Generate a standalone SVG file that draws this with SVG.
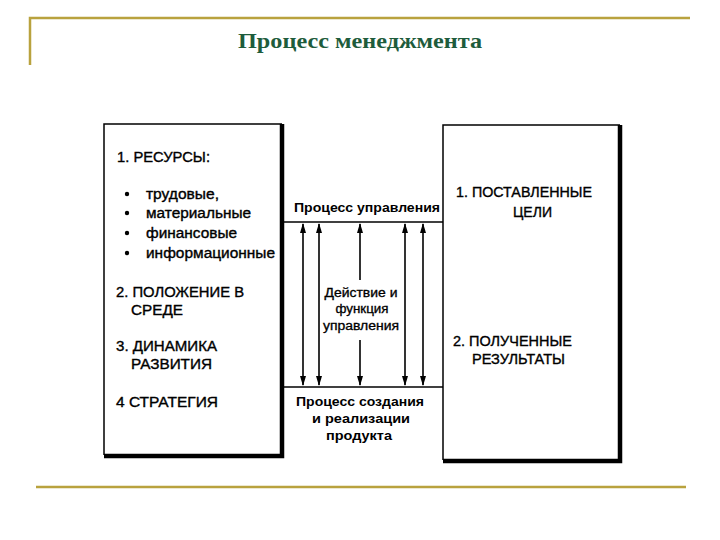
<svg xmlns="http://www.w3.org/2000/svg" width="720" height="540" viewBox="0 0 720 540">
<defs>
<style>
.frame{stroke:#b9a23e;stroke-width:2.5;fill:none}
.title{font-family:"Liberation Serif",serif;font-weight:bold;font-size:22px;fill:#1e5c3c}
.t{font-family:"Liberation Sans",Arial,sans-serif;font-size:14px;fill:#000;stroke:#000;stroke-width:0.35}
.m{font-family:"Liberation Sans",Arial,sans-serif;font-size:12px;font-weight:bold;fill:#000}
.n{font-weight:normal;stroke:#000;stroke-width:0.3}
.thin{stroke:#000;stroke-width:1.5;fill:none}
.thick{stroke:#000;stroke-width:4.5;fill:none}
.ln{stroke:#000;stroke-width:1.5;fill:none}
.arr{stroke:#000;stroke-width:1.6;fill:none;marker-start:url(#ah);marker-end:url(#ah)}
.arrS{stroke:#000;stroke-width:1.6;fill:none;marker-start:url(#ah)}
.arrE{stroke:#000;stroke-width:1.6;fill:none;marker-end:url(#ah)}
</style>
<marker id="ah" markerUnits="userSpaceOnUse" markerWidth="10" markerHeight="7" refX="9" refY="3" orient="auto-start-reverse" viewBox="0 0 10 6">
<path d="M0,0 L10,3 L0,6 Z" fill="#000"/>
</marker>
</defs>
<g id="frame">
<polyline class="frame" points="30,65 30,18 690,18"/>
<line class="frame" x1="36" y1="487" x2="686" y2="487"/>
</g>
<g id="title">
<text class="title" x="360" y="48" text-anchor="middle" textLength="244" lengthAdjust="spacingAndGlyphs">Процесс менеджмента</text>
</g>
<g id="resources">
<polyline class="thin" points="282,124 104,124 104,455"/>
<polyline class="thick" points="282,124 282,456 104,456"/>
<text class="t" x="117" y="162" textLength="93" lengthAdjust="spacingAndGlyphs">1. РЕСУРСЫ:</text>
<circle cx="127" cy="194" r="2.2"/>
<circle cx="127" cy="213" r="2.2"/>
<circle cx="127" cy="233" r="2.2"/>
<circle cx="127" cy="253" r="2.2"/>
<text class="t" x="146" y="199" textLength="73" lengthAdjust="spacingAndGlyphs">трудовые,</text>
<text class="t" x="146" y="218" textLength="105" lengthAdjust="spacingAndGlyphs">материальные</text>
<text class="t" x="146" y="238" textLength="91" lengthAdjust="spacingAndGlyphs">финансовые</text>
<text class="t" x="146" y="258" textLength="129" lengthAdjust="spacingAndGlyphs">информационные</text>
<text class="t" x="116" y="297" textLength="128" lengthAdjust="spacingAndGlyphs">2. ПОЛОЖЕНИЕ В</text>
<text class="t" x="131" y="315" textLength="52" lengthAdjust="spacingAndGlyphs">СРЕДЕ</text>
<text class="t" x="116" y="351" textLength="101" lengthAdjust="spacingAndGlyphs">3. ДИНАМИКА</text>
<text class="t" x="131" y="369" textLength="81" lengthAdjust="spacingAndGlyphs">РАЗВИТИЯ</text>
<text class="t" x="116" y="407" textLength="102" lengthAdjust="spacingAndGlyphs">4 СТРАТЕГИЯ</text>
</g>
<g id="goals">
<polyline class="thin" points="620,125 443,125 443,460"/>
<polyline class="thick" points="620,125 620,461 443,461"/>
<text class="t" x="456" y="197" textLength="136" lengthAdjust="spacingAndGlyphs">1. ПОСТАВЛЕННЫЕ</text>
<text class="t" x="513" y="217" textLength="39" lengthAdjust="spacingAndGlyphs">ЦЕЛИ</text>
<text class="t" x="453" y="346" textLength="119" lengthAdjust="spacingAndGlyphs">2. ПОЛУЧЕННЫЕ</text>
<text class="t" x="472" y="364" textLength="93" lengthAdjust="spacingAndGlyphs">РЕЗУЛЬТАТЫ</text>
</g>
<g id="management">
<text class="m" x="294" y="212" textLength="146" lengthAdjust="spacingAndGlyphs">Процесс управления</text>
</g>
<g id="action">
<text class="m n" x="361" y="297" text-anchor="middle" textLength="73" lengthAdjust="spacingAndGlyphs">Действие и</text>
<text class="m n" x="362" y="313" text-anchor="middle" textLength="53" lengthAdjust="spacingAndGlyphs">функция</text>
<text class="m n" x="361" y="330" text-anchor="middle" textLength="76" lengthAdjust="spacingAndGlyphs">управления</text>
</g>
<g id="product">
<text class="m" x="360" y="406" text-anchor="middle" textLength="128" lengthAdjust="spacingAndGlyphs">Процесс создания</text>
<text class="m" x="361" y="423" text-anchor="middle" textLength="98" lengthAdjust="spacingAndGlyphs">и реализации</text>
<text class="m" x="359" y="440" text-anchor="middle" textLength="66" lengthAdjust="spacingAndGlyphs">продукта</text>
</g>
<g id="connectors">
<line class="ln" x1="283" y1="222" x2="443" y2="222"/>
<line class="ln" x1="283" y1="387" x2="443" y2="387"/>
<line class="arr" x1="303" y1="224" x2="303" y2="385"/>
<line class="arr" x1="319" y1="224" x2="319" y2="385"/>
<line class="arrS" x1="360" y1="224" x2="360" y2="280"/>
<line class="arrE" x1="360" y1="340" x2="360" y2="385"/>
<line class="arr" x1="405" y1="224" x2="405" y2="385"/>
<line class="arr" x1="423" y1="224" x2="423" y2="385"/>
</g>
</svg>
